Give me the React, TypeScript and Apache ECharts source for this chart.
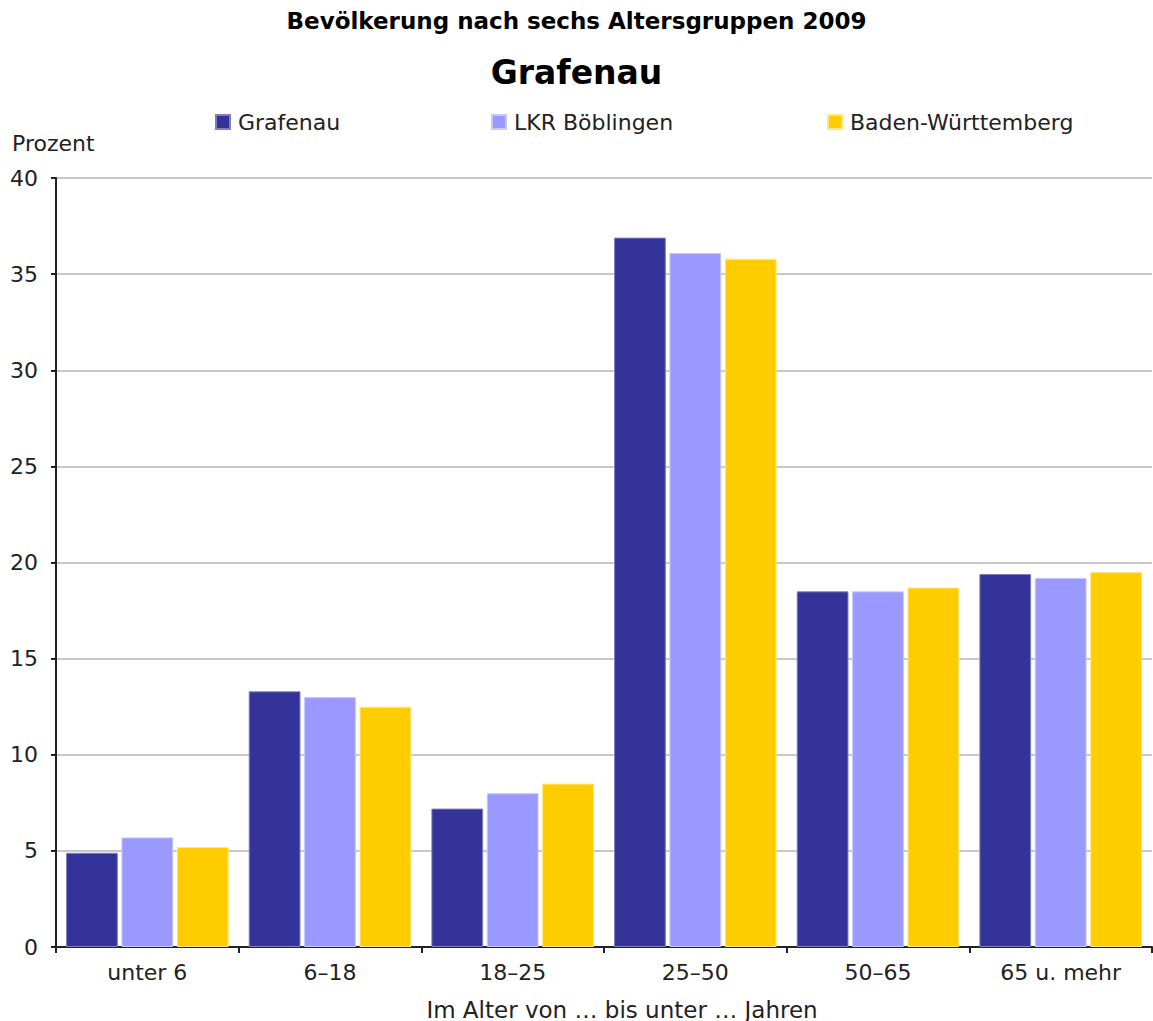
import React, { useEffect, useRef } from "react";
import * as echarts from "echarts";

const categories = ["unter 6", "6–18", "18–25", "25–50", "50–65", "65 u. mehr"];
const grafenau = [4.9, 13.3, 7.2, 36.9, 18.5, 19.4];
const lkrBoeblingen = [5.7, 13.0, 8.0, 36.1, 18.5, 19.2];
const badenWuerttemberg = [5.2, 12.5, 8.5, 35.8, 18.7, 19.5];
const seriesNames = ["Grafenau", "LKR Böblingen", "Baden-Württemberg"];
const colors = ["#333399", "#9999ff", "#ffcc00"];
const borders = ["#8080c0", "#c8c8ff", "#ffe680"];
const legendLefts = [215, 491, 827];

const FONT = "DejaVu Sans";
const TXT = "#222";

export default function App() {
  const ref = useRef<HTMLDivElement>(null);
  useEffect(() => {
    if (!ref.current) return;
    const chart = echarts.init(ref.current, null, { renderer: "svg" });
    const data = [grafenau, lkrBoeblingen, badenWuerttemberg];
    chart.setOption({
      animation: false,
      backgroundColor: "#ffffff",
      textStyle: { fontFamily: FONT },
      title: [
        {
          text: "Bevölkerung nach sechs Altersgruppen 2009",
          left: "center",
          top: 4,
          textStyle: { fontFamily: FONT, fontWeight: "bold", fontSize: 23, color: "#000" },
        },
        {
          text: "Grafenau",
          left: "center",
          top: 51,
          textStyle: { fontFamily: FONT, fontWeight: "bold", fontSize: 33, color: "#000" },
        },
      ],
      legend: seriesNames.map((name, i) => ({
        left: legendLefts[i],
        top: 111,
        padding: 0,
        itemWidth: 14,
        itemHeight: 14,
        itemGap: 8,
        icon: "rect",
        textStyle: { fontFamily: FONT, fontSize: 22, color: TXT, padding: [0, 0, 0, 3] },
        data: [name],
      })),
      graphic: [
        {
          type: "text",
          left: 12,
          top: 132,
          style: { text: "Prozent", fontFamily: FONT, fontSize: 22, fill: TXT },
        },
      ],
      grid: { left: 56, right: 1, top: 178, bottom: 74, outerBoundsMode: "none", containLabel: false },
      xAxis: {
        type: "category",
        data: categories,
        axisLine: { lineStyle: { color: "#222", width: 2 } },
        axisTick: { show: true, length: 6, lineStyle: { color: "#222", width: 2 } },
        axisLabel: { fontFamily: FONT, fontSize: 22, color: TXT, margin: 14 },
        name: "Im Alter von … bis unter … Jahren",
        nameLocation: "middle",
        nameGap: 51,
        nameTextStyle: { fontFamily: FONT, fontSize: 23, color: TXT, padding: [0, 0, 0, 36] },
      },
      yAxis: {
        type: "value",
        min: 0,
        max: 40,
        interval: 5,
        axisLine: { show: true, lineStyle: { color: "#222", width: 2 } },
        axisTick: { show: true, length: 5, lineStyle: { color: "#222", width: 2 } },
        axisLabel: { fontFamily: FONT, fontSize: 22, color: TXT, margin: 18 },
        splitLine: { lineStyle: { color: "#c8c8c8", width: 2 } },
      },
      series: seriesNames.map((name, i) => ({
        name,
        type: "bar",
        data: data[i],
        barCategoryGap: "11%",
        barGap: "7%",
        itemStyle: { color: colors[i], borderColor: borders[i], borderWidth: 1 },
      })),
    });
    return () => chart.dispose();
  }, []);
  return (
    <div
      ref={ref}
      style={{ position: "fixed", left: 0, top: 0, width: 1153, height: 1021, background: "#fff" }}
    />
  );
}
